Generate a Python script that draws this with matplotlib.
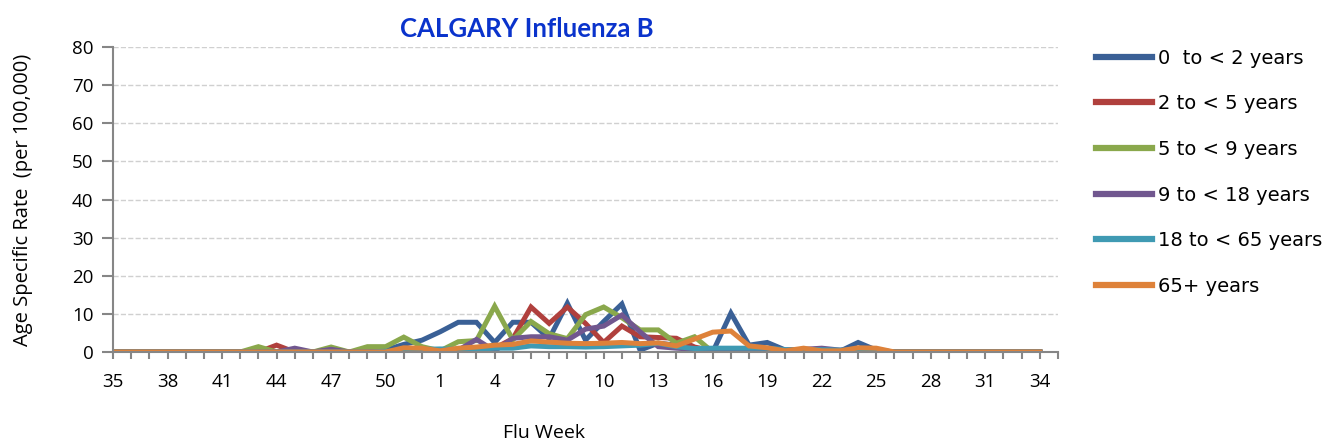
import matplotlib.pyplot as plt
import numpy as np

# flu weeks 35..52 then 1..34
weeks = list(range(35, 53)) + list(range(1, 35))

# age specific rates (per 100,000)
# first 18 values = weeks 35..52, next 34 = weeks 1..34
age_0_2 = ([0]*14 + [0, 0.5, 2.0, 3.1]
           + [5.3, 7.8, 7.8, 2.5, 7.8, 7.8, 3.5, 12.8, 3.1, 8.0, 12.6, 0.5, 2.3, 1.8, 0, 0,
              10.2, 1.8, 2.5, 0.5, 0.5, 0.8, 0.2, 2.5, 0.5] + [0]*9)
age_2_5 = ([0]*9 + [1.8] + [0]*8
           + [0, 0.3, 0.5, 1.0, 3.5, 11.8, 7.5, 11.8, 7.5, 2.5, 6.8, 4.0, 3.8, 3.6, 1.3, 0.3,
              0, 0.3, 0.3, 0.2, 0.2, 0.3, 0.2, 0.3, 0.2] + [0]*9)
age_5_9 = ([0]*8 + [1.4, 0, 0, 0, 1.3, 0, 1.4, 1.4, 3.9, 1.4]
           + [0.3, 2.7, 3.0, 12.0, 3.2, 8.0, 4.8, 3.5, 9.8, 11.8, 9.0, 5.8, 5.8, 2.3, 4.0, 0,
              0] + [0]*17)
age_9_18 = ([0]*10 + [1.0, 0, 0.7, 0, 0, 0, 0.3, 0.3]
            + [0, 0.5, 3.3, 0.3, 3.6, 4.0, 4.0, 3.1, 6.0, 6.8, 9.7, 5.3, 1.4, 1.0, 0.7, 0.5,
               0.5, 0.8, 0.8, 0.5, 0.7, 1.0, 0.5, 0.7, 0.5] + [0]*9)
age_18_65 = ([0]*15 + [0.2, 0.3, 0.7]
             + [0.8, 0.7, 0.7, 1.0, 1.0, 1.6, 1.4, 1.4, 1.3, 1.4, 1.6, 1.8, 2.3, 1.4, 0.9, 1.0,
                1.0, 1.0, 1.0, 0.6, 0.6, 0.6, 0.5, 0.6, 0.3] + [0]*9)
age_65 = ([0]*15 + [0, 1.1, 1.0]
          + [0.3, 1.0, 1.3, 1.8, 2.0, 2.9, 2.6, 2.3, 2.2, 2.3, 2.5, 2.2, 2.4, 1.6, 3.4, 5.2,
             5.5, 1.6, 1.1, 0.3, 1.0, 0.3, 0.3, 1.1, 1.0] + [0]*9)

series = [
    ('0  to < 2 years', age_0_2, '#3a6096'),
    ('2 to < 5 years', age_2_5, '#b0403d'),
    ('5 to < 9 years', age_5_9, '#8aa84c'),
    ('9 to < 18 years', age_9_18, '#71578f'),
    ('18 to < 65 years', age_18_65, '#3f9ab3'),
    ('65+ years', age_65, '#de823a'),
]

plt.rcParams['font.family'] = ['Open Sans', 'DejaVu Sans']

fig = plt.figure(figsize=(13.28, 4.45), dpi=100)
ax = fig.add_axes([0.0851, 0.209, 0.7116, 0.685])

x = np.arange(len(weeks))
for label, vals, color in series:
    ax.plot(x, vals, color=color, linewidth=3.6, label=label, solid_joinstyle='miter')

ax.set_xlim(0, len(weeks))
ax.set_ylim(0, 80)
ax.set_yticks(range(0, 81, 10))
ax.set_xticks(x[::3])
ax.set_xticklabels([str(w) for w in weeks[::3]])
ax.set_xticks(np.arange(len(weeks) + 1), minor=True)
ax.tick_params(axis='both', which='both', labelsize=13.5, colors='#868686',
               labelcolor='black')
ax.tick_params(axis='y', length=8, width=1.5, direction='out', pad=6)
ax.tick_params(axis='x', which='both', length=5, width=1.5, direction='out')
ax.tick_params(axis='x', pad=10)

ax.grid(axis='y', color='#d0d0d0', linestyle='--', linewidth=1)
ax.set_axisbelow(True)
for s in ['top', 'right']:
    ax.spines[s].set_visible(False)
for s in ['left', 'bottom']:
    ax.spines[s].set_color('#868686')
    ax.spines[s].set_linewidth(1.5)

fig.text(0.410, 0.027, 'Flu Week', fontsize=14, ha='center', va='center')
ax.set_ylabel('Age Specific Rate  (per 100,000)', fontsize=14.5)
ax.yaxis.set_label_coords(-0.085, 0.5)
fig.text(0.397, 0.935, 'CALGARY Influenza B', color='#0a33cc', fontsize=18.5,
         fontweight='bold', family=['Lato', 'DejaVu Sans'], ha='center', va='center')

fig.legend(loc='upper left', bbox_to_anchor=(0.812, 0.93), frameon=False,
           prop={'family': 'DejaVu Sans', 'size': 14}, handlelength=2.9,
           labelspacing=1.37, handletextpad=0.3)
for line in fig.legends[0].get_lines():
    line.set_linewidth(4.5)

fig.savefig('out.png', dpi=100)
